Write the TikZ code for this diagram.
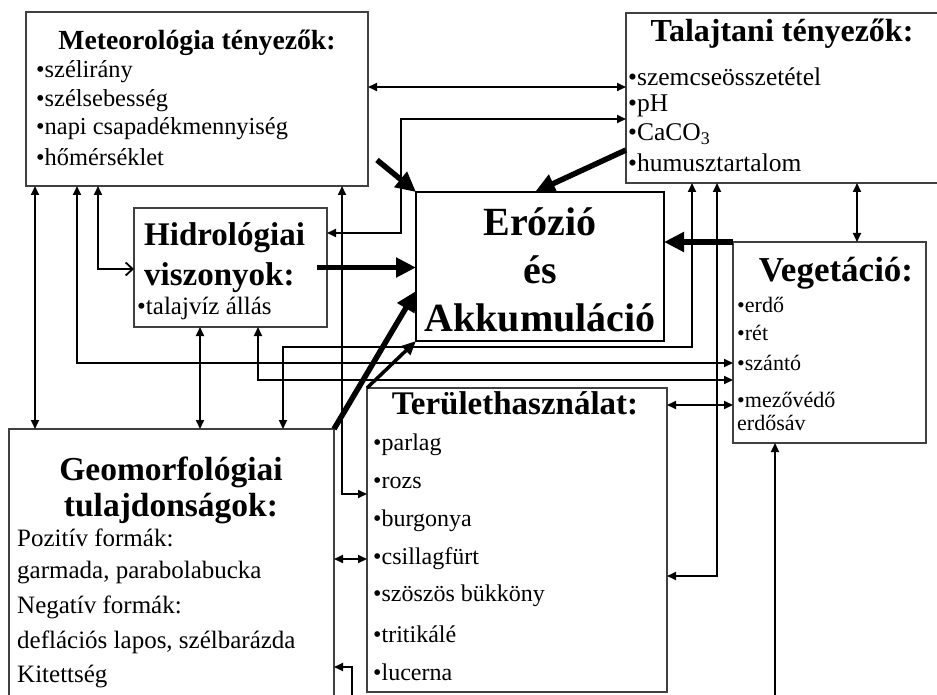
\documentclass[tikz,border=0pt]{standalone}
\usepackage{fontspec}
\setmainfont{Liberation Serif}
\usetikzlibrary{arrows.meta,calc}
\tikzset{
  box/.style        = {draw=black!75,line width=1.2pt,anchor=north west,
                       inner sep=0pt,outer sep=0pt},
  ttl/.style 2 args = {inner sep=0pt,align=center,
                       font=\fontsize{#1}{#2}\selectfont\bfseries},
  itm/.style        = {inner sep=0pt,anchor=west,font=\fontsize{#1}{#1}\selectfont},
  link/.style       = {<->,>={Triangle[length=9pt,width=8pt]},line width=1.8pt},
  lead/.style       = {->,>={Triangle[length=9pt,width=8pt]},line width=1.8pt},
  push/.style       = {-{Triangle[length=20pt,width=19pt]},line width=5.5pt},
}
\begin{document}
\begin{tikzpicture}[x=1pt,y=-1pt]
  \clip (0,0) rectangle (937,695);

  % Boxes (top left corner at pixel position)
  \node[box,minimum width=342pt,minimum height=174pt] (meteo)   at (26,12)  {};
  \node[box,minimum width=320pt,minimum height=170pt] (talaj)   at (626,13) {};
  \node[box,draw=black,line width=2pt,minimum width=248pt,minimum height=149pt]
       (erozio) at (416,192) {};
  \node[box,minimum width=193pt,minimum height=119pt] (hidro)   at (134,208) {};
  \node[box,minimum width=193pt,minimum height=201pt] (veg)     at (733,242) {};
  \node[box,minimum width=300pt,minimum height=304pt] (terulet) at (367,388) {};
  \node[box,minimum width=325pt,minimum height=290pt] (geomorf) at (9,429)  {};

  % Titles
  \node[ttl={27.7pt}{32pt}] (meteoT) at (197,43)  {Meteorológia tényezők:};
  \node[ttl={32pt}{38pt}] (talajT)   at (782,34)  {Talajtani tényezők:};
  \node[ttl={40pt}{48pt}] (erozioT)  at (540,270) {Erózió\\és\\Akkumuláció};
  \node[ttl={33pt}{40pt},align=left,anchor=west] (hidroT) at (144,258)
       {Hidrológiai\\viszonyok:};
  \node[ttl={35pt}{40pt}] (vegT)     at (836,273) {Vegetáció:};
  \node[ttl={33pt}{38pt}] (teruletT) at (515,403) {Területhasználat:};
  \node[ttl={33.5pt}{36pt}] (geomorfT) at (171,490) {Geomorfológiai\\tulajdonságok:};

  % Item lists
  \foreach \txt [count=\i] in {•szélirány,•szélsebesség,•napi csapadékmennyiség,•hőmérséklet}
    \node[itm=24.4pt] (meteo\i) at (36,43.6+28.4*\i) {\txt};
  \foreach \txt [count=\i] in {•szemcseösszetétel,•pH,•CaCO\textsubscript{3},•humusztartalom}
    \node[itm=25.5pt] (talaj\i) at (628,48.3+28.7*\i) {\txt};
  \node[itm=25pt] (hidro1) at (137,308) {•talajvíz állás};
  \foreach \txt/\y [count=\i] in {•erdő/305,•rét/333,•szántó/363,•mezővédő/400,erdősáv/423}
    \node[itm=22pt] (veg\i) at (737,\y) {\txt};
  \foreach \txt [count=\i] in {•parlag,•rozs,•burgonya,•csillagfürt,•szöszös bükköny,
                               •tritikálé,•lucerna}
    \node[itm=24pt] (terulet\i) at (373,407.2+37.8*\i) {\txt};
  \foreach \txt [count=\i] in {Pozitív formák:,{garmada, parabolabucka},Negatív formák:,
                               {deflációs lapos, szélbarázda},Kitettség}
    \node[itm=25pt] (geomorf\i) at (17,503.3+34.7*\i) {\txt};

  % Two-way links between the factor boxes
  \coordinate (kQ) at (0,87);
  \draw[link] (kQ -| meteo.east) -- (kQ -| talaj.west);
  \coordinate (kA) at (401,119);
  \draw[link] ([yshift=-25pt]hidro.north east) -| (kA) -- (kA -| talaj.west);
  \coordinate (kM) at (35,0);
  \draw[link] (kM |- meteo.south) -- (kM |- geomorf.north);
  \coordinate (kB) at (77,363);
  \draw[link] (kB |- meteo.south) -- (kB) -- (kB -| veg.west);
  \coordinate (kC) at (98,269);
  \draw[line width=1.8pt,{Triangle[length=9pt,width=8pt]}-{Straight Barb[length=7pt,width=13pt]}]
       (kC |- meteo.south) -- (kC) -- (kC -| hidro.west);
  \coordinate (kD) at (342,494);
  \draw[link] (kD |- meteo.south) -- (kD) -- (kD -| terulet.west);
  \coordinate (kE) at (200,0);
  \draw[link] (kE |- hidro.south) -- (kE |- geomorf.north);
  \coordinate (kF) at (258,380);
  \draw[link] (kF |- hidro.south) -- (kF) -- (kF -| veg.west);
  \coordinate (kG) at (283,347);
  \coordinate (kH) at (692,347);
  \draw[link] (kG |- geomorf.north) -- (kG) -- (kH) -- (kH |- talaj.south);
  \coordinate (kI) at (717,576);
  \draw[link] (kI |- talaj.south) -- (kI) -- (kI -| terulet.east);
  \coordinate (kJ) at (857,0);
  \draw[link] (kJ |- talaj.south) -- (kJ |- veg.north);
  \coordinate (kK) at (0,405);
  \draw[link] (kK -| terulet.east) -- (kK -| veg.west);
  \coordinate (kL) at (0,559);
  \draw[link] (kL -| geomorf.east) -- (kL -| terulet.west);

  % Links coming in from below the picture
  \coordinate (kN) at (775,700);
  \draw[lead] (kN) -- (kN |- veg.south);
  \coordinate (kO) at (352,700);
  \coordinate (kP) at (352,667);
  \draw[lead] (kO) -- (kP) -- (kP -| geomorf.east);

  % Thick arrows into the central box
  \draw[push] ([shift={(9,-26)}]meteo.south east) -- (erozio.north west);
  \draw[push] ([yshift=33pt]talaj.south west) -- ([xshift=119pt]erozio.north west);
  \draw[push] ([xshift=-10pt]hidro.east) -- (hidro.east -| erozio.west);
  \draw[push] (veg.north west) -- (veg.north west -| erozio.east);
  \draw[push] (geomorf.north east) -- ([yshift=50pt]erozio.south west);
  \draw[push,line width=3.5pt,-{Triangle[length=14pt,width=12pt]}]
       (terulet.north west) -- (erozio.south west);
\end{tikzpicture}
\end{document}
